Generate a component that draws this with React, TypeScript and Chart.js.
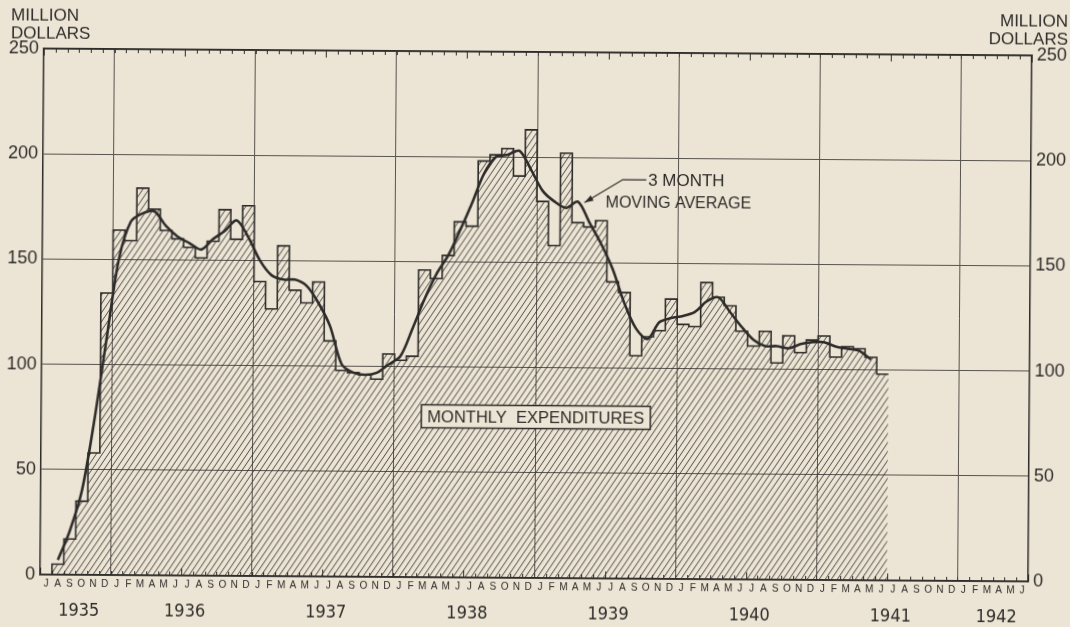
import { useEffect, useRef } from "react";
import { Chart, registerables } from "chart.js";

Chart.register(...registerables);

// ---- data (months counted from July 1935) ----
const MONTH_LETTERS = ["J", "A", "S", "O", "N", "D", "J", "F", "M", "A", "M", "J"];
const YEAR_LABELS = ["1935", "1936", "1937", "1938", "1939", "1940", "1941", "1942"];
const Y_TICKS = [0, 50, 100, 150, 200, 250];
const TOTAL_MONTHS = 84; // July 1935 .. June 1942

// Monthly expenditures, million dollars, July 1935 .. June 1941
const EXPENDITURES = [
  0, 5, 17, 35, 58, 134,
  164, 159, 184, 174, 164, 160, 156, 151, 159, 174, 160, 176,
  140, 127, 157, 136, 130, 140, 112, 98, 97, 96, 94, 106,
  103, 105, 146, 142, 153, 169, 167, 198, 201, 204, 191, 213,
  179, 158, 202, 169, 167, 170, 141, 136, 106, 115, 118, 133,
  121, 120, 141, 134, 130, 118, 111, 118, 103, 116, 108, 114,
  116, 106, 111, 110, 106, 98,
];

// 3 month moving average (centred)
const MOVING_AVERAGE: (number | null)[] = [
  null, 7, 21, 40, 73, 112,
  150, 168, 172, 173, 166, 161, 158, 155, 160, 164, 169, 161,
  150, 143, 141, 141, 138, 130, 119, 101, 97, 96, 97, 101,
  105, 118, 132, 144, 153, 165, 178, 192, 200, 201, 203, 194,
  184, 179, 176, 179, 169, 159, 147, 131, 119, 114, 122, 124,
  125, 127, 132, 134, 127, 120, 114, 111, 111, 110, 112, 113,
  113, 111, 110, 109, 105, null,
];

// ---- styling ----
const PAPER = "#ece4d4";
const INK = "#2e2c2a";
const GRID = "#57534e";
const FONT = "'Liberation Sans', Arial, sans-serif";
const NARROW = "'Liberation Sans Narrow', 'DejaVu Sans Condensed', 'Liberation Sans', sans-serif";

function makeHatch(): CanvasPattern | string {
  const c = document.createElement("canvas");
  const w = 6;
  const h = 9;
  c.width = w;
  c.height = h;
  const g = c.getContext("2d");
  if (!g) return "rgba(0,0,0,0.2)";
  g.strokeStyle = "rgba(50,47,44,0.85)";
  g.lineWidth = 1;
  g.beginPath();
  for (const dx of [-w, 0, w]) {
    g.moveTo(dx, h);
    g.lineTo(dx + w, 0);
  }
  g.stroke();
  return g.createPattern(c, "repeat") || "rgba(0,0,0,0.2)";
}

function yearCenters(): number[] {
  const firstJan = 6;
  return YEAR_LABELS.map((_, i) => {
    const start = i === 0 ? 0 : firstJan + (i - 1) * 12;
    const end = Math.min(TOTAL_MONTHS, i === 0 ? firstJan : start + 12);
    return (start + end) / 2 + 0.3;
  });
}

const overlayPlugin = {
  id: "overlay",
  afterDatasetsDraw(chart: any) {
    const { ctx, chartArea: ca, scales } = chart;
    const xs = scales.x;
    const ys = scales.y;
    ctx.save();

    // month tick marks, inward, top and bottom
    ctx.strokeStyle = INK;
    ctx.lineWidth = 1;
    ctx.beginPath();
    for (let m = 0; m <= TOTAL_MONTHS; m++) {
      const px = Math.round(xs.getPixelForValue(m)) + 0.5;
      const len = m % 12 === 0 ? 7 : 4;
      ctx.moveTo(px, ca.bottom);
      ctx.lineTo(px, ca.bottom - len);
      ctx.moveTo(px, ca.top);
      ctx.lineTo(px, ca.top + len);
    }
    ctx.stroke();

    // "MONTHLY EXPENDITURES" box
    const label = "MONTHLY  EXPENDITURES";
    ctx.font = `16.5px ${FONT}`;
    const tw = ctx.measureText(label).width;
    const cx = xs.getPixelForValue(42.05);
    const cy = ys.getPixelForValue(76.5);
    const bw = tw + 12;
    const bh = 23;
    ctx.fillStyle = PAPER;
    ctx.fillRect(cx - bw / 2, cy - bh / 2, bw, bh);
    ctx.strokeStyle = INK;
    ctx.lineWidth = 1.5;
    ctx.strokeRect(cx - bw / 2, cy - bh / 2, bw, bh);
    ctx.fillStyle = INK;
    ctx.textAlign = "center";
    ctx.textBaseline = "middle";
    ctx.fillText(label, cx, cy + 1);

    // "3 MONTH MOVING AVERAGE" label with leader arrow
    ctx.textAlign = "left";
    ctx.font = `17px ${FONT}`;
    ctx.fillText("3 MONTH", xs.getPixelForValue(51.45), ys.getPixelForValue(189));
    ctx.font = `16px ${FONT}`;
    ctx.fillText("MOVING AVERAGE", xs.getPixelForValue(47.85), ys.getPixelForValue(178.5));

    const p0 = { x: xs.getPixelForValue(51.3), y: ys.getPixelForValue(189.6) };
    const p1 = { x: xs.getPixelForValue(49.3), y: ys.getPixelForValue(189.6) };
    const p2 = { x: xs.getPixelForValue(46.05), y: ys.getPixelForValue(178.6) };
    ctx.strokeStyle = INK;
    ctx.lineWidth = 1.2;
    ctx.beginPath();
    ctx.moveTo(p0.x, p0.y);
    ctx.lineTo(p1.x, p1.y);
    ctx.lineTo(p2.x, p2.y);
    ctx.stroke();
    const ang = Math.atan2(p2.y - p1.y, p2.x - p1.x);
    const al = 9;
    const aw = 3;
    ctx.fillStyle = INK;
    ctx.beginPath();
    ctx.moveTo(p2.x, p2.y);
    ctx.lineTo(p2.x - al * Math.cos(ang) + aw * Math.sin(ang), p2.y - al * Math.sin(ang) - aw * Math.cos(ang));
    ctx.lineTo(p2.x - al * Math.cos(ang) - aw * Math.sin(ang), p2.y - al * Math.sin(ang) + aw * Math.cos(ang));
    ctx.closePath();
    ctx.fill();

    // unit labels
    ctx.fillStyle = INK;
    ctx.font = `17px ${FONT}`;
    ctx.textBaseline = "middle";
    ctx.textAlign = "left";
    ctx.fillText("MILLION", 9, 19);
    ctx.fillText("DOLLARS", 9, 37.5);
    ctx.textAlign = "right";
    ctx.fillText("MILLION", 1066, 18.5);
    ctx.fillText("DOLLARS", 1066, 36.5);

    ctx.restore();
  },
};

export default function App() {
  const canvasRef = useRef<HTMLCanvasElement | null>(null);

  useEffect(() => {
    const canvas = canvasRef.current;
    if (!canvas) return;
    const hatch = makeHatch();
    const centers = yearCenters();

    const barPoints = EXPENDITURES.map((v, i) => ({ x: i, y: v }));
    barPoints.push({ x: EXPENDITURES.length, y: EXPENDITURES[EXPENDITURES.length - 1] });

    const maPoints = MOVING_AVERAGE.map((v, i) => (v === null ? null : { x: i + 0.5, y: v })).filter(
      (p) => p !== null
    ) as { x: number; y: number }[];

    const chart = new Chart(canvas, {
      type: "line",
      data: {
        datasets: [
          {
            label: "3 month moving average",
            data: maPoints,
            borderColor: INK,
            borderWidth: 2.6,
            tension: 0.3,
            pointRadius: 0,
            fill: false,
            order: 0,
          },
          {
            label: "Monthly expenditures",
            data: barPoints,
            stepped: "before",
            borderColor: INK,
            borderWidth: 1.6,
            backgroundColor: hatch as any,
            fill: "origin",
            pointRadius: 0,
            tension: 0,
            order: 1,
          },
        ],
      },
      options: {
        animation: false,
        responsive: false,
        devicePixelRatio: 1,
        parsing: false as any,
        layout: { padding: { top: 52, bottom: 0, left: 0, right: 0 } },
        plugins: {
          legend: { display: false },
          tooltip: { enabled: false },
        },
        scales: {
          x: {
            type: "linear",
            position: "bottom",
            min: 0,
            max: TOTAL_MONTHS,
            weight: 0,
            afterBuildTicks: (s: any) => {
              s.ticks = Array.from({ length: TOTAL_MONTHS }, (_, m) => ({ value: m + 0.5 }));
            },
            afterFit: (s: any) => {
              s.height = 18;
            },
            ticks: {
              autoSkip: false,
              maxRotation: 0,
              padding: 3,
              color: INK,
              font: { family: FONT, size: 10 },
              callback: (_v: any, i: number) => MONTH_LETTERS[i % 12],
            },
            grid: { display: false, drawTicks: false },
            border: { display: true, color: INK, width: 1.5 },
          },
          xYear: {
            type: "linear",
            position: "bottom",
            min: 0,
            max: TOTAL_MONTHS,
            weight: 1,
            afterBuildTicks: (s: any) => {
              s.ticks = centers.map((c) => ({ value: c }));
            },
            afterFit: (s: any) => {
              s.height = 31;
            },
            ticks: {
              autoSkip: false,
              maxRotation: 0,
              padding: 8,
              color: INK,
              font: { family: NARROW, size: 18 },
              callback: (_v: any, i: number) => YEAR_LABELS[i],
            },
            grid: { display: false, drawTicks: false },
            border: { display: false },
          },
          xGrid: {
            type: "linear",
            position: "top",
            min: 0,
            max: TOTAL_MONTHS,
            afterBuildTicks: (s: any) => {
              const t = [];
              for (let m = 6; m < TOTAL_MONTHS; m += 12) t.push({ value: m });
              s.ticks = t;
            },
            afterFit: (s: any) => {
              s.height = 0;
            },
            ticks: { display: false },
            grid: { display: true, color: GRID, lineWidth: 1, drawTicks: false },
            border: { display: true, color: INK, width: 1.5 },
          },
          y: {
            type: "linear",
            position: "left",
            min: 0,
            max: 250,
            afterBuildTicks: (s: any) => {
              s.ticks = Y_TICKS.map((v) => ({ value: v }));
            },
            afterFit: (s: any) => {
              s.width = 42;
            },
            ticks: {
              padding: 5,
              color: INK,
              font: { family: FONT, size: 18 },
              callback: (v: any) => String(v),
            },
            grid: { color: GRID, lineWidth: 1, drawTicks: false },
            border: { display: true, color: INK, width: 1.5 },
          },
          y2: {
            type: "linear",
            position: "right",
            min: 0,
            max: 250,
            afterBuildTicks: (s: any) => {
              s.ticks = Y_TICKS.map((v) => ({ value: v }));
            },
            afterFit: (s: any) => {
              s.width = 40;
            },
            ticks: {
              padding: 5,
              color: INK,
              font: { family: FONT, size: 18 },
              callback: (v: any) => String(v),
            },
            grid: { display: false, drawTicks: false },
            border: { display: true, color: INK, width: 1.5 },
          },
        },
      } as any,
      plugins: [overlayPlugin],
    });

    return () => chart.destroy();
  }, []);

  return (
    <div
      style={{
        position: "fixed",
        left: 0,
        top: 0,
        width: 1070,
        height: 627,
        background: PAPER,
        overflow: "hidden",
      }}
    >
      <div style={{ width: 1070, height: 627, transform: "rotate(0.4deg)", transformOrigin: "50% 50%" }}>
        <canvas ref={canvasRef} width={1070} height={627} style={{ display: "block" }} />
      </div>
    </div>
  );
}
